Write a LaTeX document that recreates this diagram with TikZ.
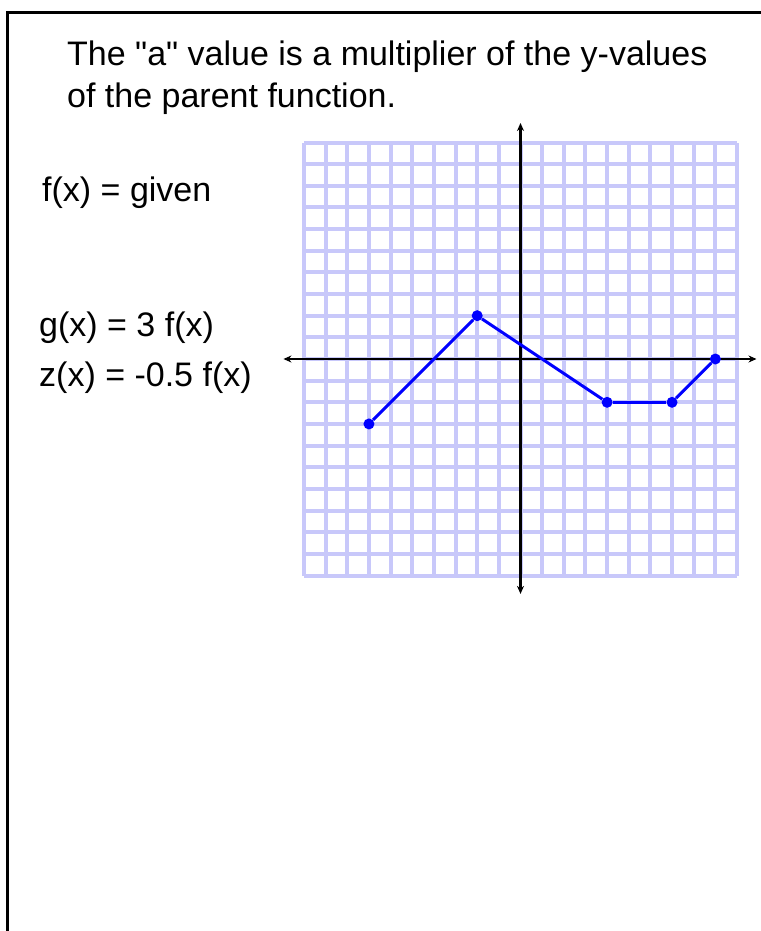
\documentclass[tikz,border=0pt]{standalone}
\usepackage{fontspec}
\setmainfont{Liberation Sans}[Ligatures=TeXOff]
\usetikzlibrary{arrows.meta}
\definecolor{gridblue}{RGB}{200,200,250}

\begin{document}
\begin{tikzpicture}[x=1pt,y=-1pt,
  every node/.style={font=\fontsize{34}{42}\selectfont, inner sep=0pt, anchor=base west}]
\useasboundingbox (0,0) rectangle (760,931);
\draw[line width=3pt] (7,13) rectangle (800,1000);
\node (title1) at (67,66) {The "a" value is a multiplier of the y-values};
\node (title2) at (67,108) {of the parent function.};
\node (fx) at (42,201) {f(x) = given};
\node (gx) at (39,336) {g(x) = 3 f(x)};
\node (zx) at (39,386) {z(x) = -0.5 f(x)};
 \begin{scope}[shift={(520.5,359)}, x=21.65pt, y=21.65pt]
  \draw[gridblue, line width=4pt, step=1] (-10,-10) grid (10,10);
  \coordinate (xl) at (-10.95,0);
  \coordinate (xr) at (10.9,0);
  \coordinate (yb) at (0,-10.85);
  \coordinate (yt) at (0,10.9);
  \path [line width=2.4pt, {Stealth[length=8pt,width=7pt]}-{Stealth[length=8pt,width=7pt]}]
    (xl) edge (xr) (yb) edge (yt);
  \begin{scope}[every node/.style={circle, fill=blue, inner sep=0pt, minimum size=11pt}]
  \node (p1) at (-7,-3) {};
  \node (p2) at (-2,2) {};
  \node (p3) at (4,-2) {};
  \node (p4) at (7,-2) {};
  \node (p5) at (9,0) {};
 \end{scope}
  \path [blue, line width=3pt] (p1) edge (p2) (p2) edge (p3) (p3) edge (p4) (p4) edge (p5);
 \end{scope}
\end{tikzpicture}
\end{document}
